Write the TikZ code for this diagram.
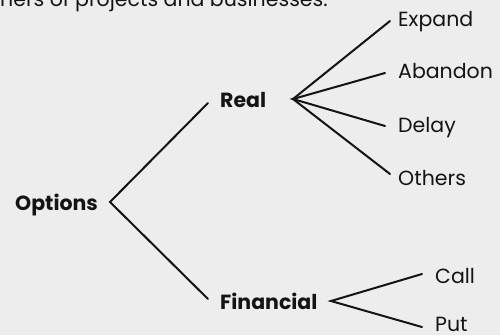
\documentclass[tikz,border=0pt]{standalone}
\usepackage{fontspec}
\setmainfont{Poppins}
\definecolor{bg}{HTML}{EDEDED}
\definecolor{ink}{HTML}{141414}
\begin{document}
\begin{tikzpicture}[x=1pt,y=-1pt,
  leaf/.style={anchor=base west,inner sep=0pt,font=\fontsize{20.5}{24}\selectfont,text=ink},
  head/.style={anchor=base west,inner sep=0pt,font=\fontsize{20.5}{24}\selectfont\bfseries,text=ink},
  edge/.style={line width=2pt,draw=ink,line cap=round,line join=miter}]
\useasboundingbox (0,0) rectangle (500,335);
\fill[bg] (0,0) rectangle (500,335);
\clip (0,0) rectangle (500,335);
\node[leaf] (top) at (0,6) {ners of projects and businesses.};
% nodes
\node[head] (opt) at (15,210) {Options};
\node[head] (real) at (220,107) {Real};
\node[head] (fin) at (220,309) {Financial};
\node[leaf] (exp) at (398,26) {Expand};
\node[leaf] (aba) at (398,78) {Abandon};
\node[leaf] (del) at (398,132) {Delay};
\node[leaf] (oth) at (398,185) {Others};
\node[leaf] (call) at (435,283) {Call};
\node[leaf] (put) at (435,331) {Put};
% junction coordinates
\coordinate (ov) at (110,202);
\coordinate (ou) at (208,103);
\coordinate (od) at (208,299);
\coordinate (rv) at (293,99);
\coordinate (re) at (390,21);
\coordinate (ra) at (385,73);
\coordinate (rd) at (385,126);
\coordinate (ro) at (390,174);
\coordinate (fv) at (331,301);
\coordinate (fc) at (422,274);
\coordinate (fp) at (422,327);
\draw[edge] (ou) -- (ov) -- (od);
\draw[edge] (re) -- (rv) -- (ro);
\draw[edge] (ra) -- (rv) -- (rd);
\draw[edge] (fc) -- (fv) -- (fp);
\end{tikzpicture}
\end{document}
